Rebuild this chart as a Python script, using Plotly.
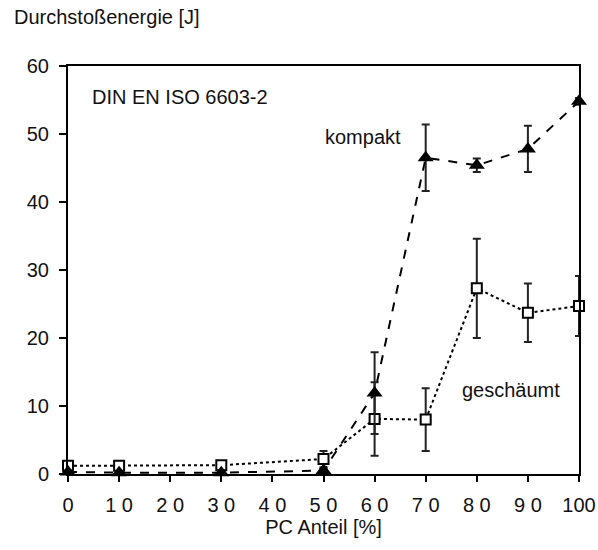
import plotly.graph_objects as go

pc = [0, 10, 30, 50, 60, 70, 80, 90, 100]
kompakt = [0.3, 0.2, 0.2, 0.5, 11.9, 46.5, 45.4, 47.8, 54.8]
kompakt_err = [0.2, 0.2, 0.2, 0.3, 6.0, 4.9, 1.0, 3.4, 0.5]
geschaeumt = [1.2, 1.2, 1.3, 2.2, 8.1, 8.0, 27.3, 23.7, 24.7]
geschaeumt_err = [0.3, 0.3, 0.3, 1.2, 5.4, 4.6, 7.3, 4.3, 4.4]
xtickvals = [0, 10, 20, 30, 40, 50, 60, 70, 80, 90, 100]
xticktext = ["0", "1 0", "2 0", "3 0", "4 0", "5 0", "6 0", "7 0", "8 0", "9 0", "100"]

FONT = "Liberation Sans, Arial, sans-serif"
FS = 20

fig = go.Figure()
fig.add_trace(go.Scatter(
    x=pc, y=geschaeumt, mode="lines+markers", name="geschäumt",
    line=dict(color="black", width=2, dash="dot"),
    marker=dict(symbol="square", size=10, color="white", line=dict(color="black", width=2)),
    error_y=dict(type="data", array=geschaeumt_err, color="#222", thickness=2, width=4),
    cliponaxis=False,
))
fig.add_trace(go.Scatter(
    x=pc, y=kompakt, mode="lines+markers", name="kompakt",
    line=dict(color="black", width=2, dash="dash"),
    marker=dict(symbol="triangle-up", size=14, color="black"),
    error_y=dict(type="data", array=kompakt_err, color="#222", thickness=2, width=4),
    cliponaxis=False,
))

fig.update_layout(
    width=598, height=550,
    margin=dict(l=68, r=19, t=66, b=76, autoexpand=False),
    paper_bgcolor="white", plot_bgcolor="white",
    showlegend=False,
    font=dict(family=FONT, size=FS, color="#111"),
    xaxis=dict(range=[0, 100], tickvals=xtickvals, ticktext=xticktext, automargin=False,
               showgrid=False, zeroline=False, showline=True, linecolor="black", linewidth=2,
               mirror=True, ticks="outside", ticklen=6, tickwidth=2, tickcolor="black",
               ticklabelstandoff=6,
               title=dict(text="PC Anteil [%]", font=dict(size=FS), standoff=2)),
    yaxis=dict(range=[0, 60], tickvals=[0, 10, 20, 30, 40, 50, 60], automargin=False,
               showgrid=False, zeroline=False, showline=True, linecolor="black", linewidth=2,
               mirror=True, ticks="outside", ticklen=7, tickwidth=2, tickcolor="black",
               ticklabelstandoff=6),
    annotations=[
        dict(text="Durchstoßenergie [J]", xref="paper", yref="paper",
             x=(12 - 68) / 511, y=1 + (66 - 17) / 408, xanchor="left", yanchor="middle",
             showarrow=False),
        dict(text="DIN EN ISO 6603-2", x=4.3, y=55.4, xref="x", yref="y", xanchor="left",
             yanchor="middle", showarrow=False),
        dict(text="kompakt", x=49.9, y=49.6, xref="x", yref="y", xanchor="left",
             yanchor="middle", showarrow=False),
        dict(text="geschäumt", x=76.7, y=12.4, xref="x", yref="y", xanchor="left",
             yanchor="middle", showarrow=False),
    ],
)
fig.write_html("out.html")
